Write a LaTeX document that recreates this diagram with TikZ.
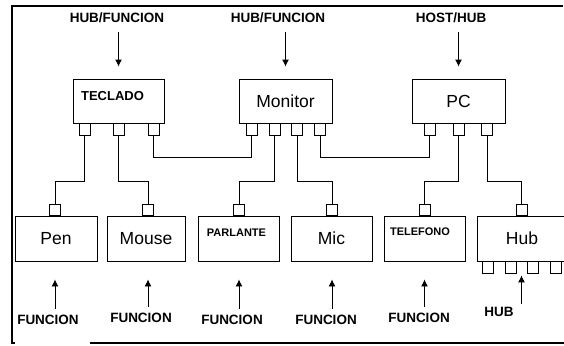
\documentclass[tikz,border=0pt]{standalone}
\usepackage{fontspec}
\setmainfont{Liberation Sans}
\usetikzlibrary{arrows.meta}
\begin{document}
\begin{tikzpicture}[x=1pt,y=-1pt,>={Latex[length=7pt,width=7pt]},
    box/.style={draw,line width=0.9pt,minimum height=44pt,inner sep=0pt,font=\fontsize{17.5}{18}\selectfont},
    port/.style={draw,line width=0.9pt,minimum width=11pt,minimum height=11.5pt,inner sep=0pt},
    tag/.style={inner sep=0pt,font=\fontsize{13.5}{14}\selectfont\bfseries},
    small/.style={inner sep=0pt,font=\fontsize{11}{12}\selectfont\bfseries},
    wire/.style={line width=0.9pt},
    flow/.style={->,line width=0.9pt}]
        \useasboundingbox (0,0) rectangle (564,345);
        \clip (0,0) rectangle (564,345);

        % draw the frame
        \draw[line width=1.3pt] (563,6) -- (12,6) -- (12,343) -- (15,343);
        \draw[line width=1.3pt] (90,343) -- (564,343);

        % the hubs on top
        \node[box,minimum width=91pt] (tec) at (118.5,101) {};
        \node[tag,font=\fontsize{13}{14}\selectfont\bfseries] (tec-t) at (112.5,96) {TECLADO};
        \node[box,minimum width=93pt] (mon) at (285.5,101) {Monitor};
        \node[box,minimum width=93pt] (pc) at (458.5,101) {PC};

        % ports under each hub
        \foreach \x [count=\i] in {84.5,118.5,153.5}
                \node[port,anchor=north] (tec\i) at (\x,123) {};
        \foreach \x [count=\i] in {251.5,274.5,297,320}
                \node[port,anchor=north] (mon\i) at (\x,123) {};
        \foreach \x [count=\i] in {429.5,458.5,487}
                \node[port,anchor=north] (pc\i) at (\x,123) {};

        % the devices below
        \node[box,minimum width=82pt,minimum height=45pt] (pen) at (56,238.5) {Pen};
        \node[box,minimum width=78pt,minimum height=45pt] (mou) at (146,238.5) {Mouse};
        \node[box,minimum width=81pt,minimum height=45pt] (par) at (238.5,238.5) {};
        \node[small] (par-t) at (236.5,233) {PARLANTE};
        \node[box,minimum width=81pt,minimum height=45pt] (mic) at (331.5,238.5) {Mic};
        \node[box,minimum width=81pt,minimum height=45pt] (tel) at (424.5,238.5) {};
        \node[small] (tel-t) at (420,232) {TELEFONO};
        \node[box,minimum width=103pt,minimum height=45pt] (hub) at (528.5,238.5) {};
        \node[font=\fontsize{17.5}{18}\selectfont] (hub-t) at (522,238.5) {Hub};

        % one port on top of each device
        \foreach \n/\x in {pen/55,mou/148,par/239,mic/332,tel/424.5,hub/521.5}
                \node[port,anchor=south] (\n-p) at (\x,216) {};
        % ports under the hub
        \foreach \x [count=\i] in {487.5,510.5,532.5,555.5}
                \node[port,anchor=north] (hubb\i) at (\x,261) {};

        % cables between the hubs
        \draw[wire] (tec3.south) -- ++(0,22) -| (mon1.south);
        \draw[wire] (mon4.south) -- ++(0,22) -| (pc1.south);
        % cables down to the devices
        \foreach \a/\b in {tec1/pen,tec2/mou,mon2/par,mon3/mic,pc2/tel,pc3/hub}
                \draw[wire] (\a.south) -- ++(0,46) -| (\b-p.north);

        % labels and arrows on top
        \node[tag] (lab1) at (117,18) {HUB/FUNCION};
        \node[tag] (lab2) at (278,18) {HUB/FUNCION};
        \node[tag] (lab3) at (451,18) {HOST/HUB};
        \foreach \l/\b in {lab1/tec,lab2/mon,lab3/pc}
                \draw[flow,shorten <=9pt,shorten >=12pt] (\l.south -| \b.north) -- (\b.north);

        % labels and arrows below
        \node[tag] (fun1) at (48,320) {FUNCION};
        \node[tag] (fun2) at (141,318) {FUNCION};
        \node[tag] (fun3) at (232,320) {FUNCION};
        \node[tag] (fun4) at (326,320) {FUNCION};
        \node[tag] (fun5) at (419,318) {FUNCION};
        \node[tag] (fun6) at (499,312) {HUB};
        \foreach \l/\b in {fun1/pen,fun2/mou,fun3/par,fun4/mic,fun5/tel}
                \draw[flow,shorten <=6pt,shorten >=18pt] (\l.north -| \b-p) -- (\b-p |- \b.south);
        \draw[flow,shorten <=3pt,shorten >=2pt] (fun6.north -| hub-p) -- (hub-p |- hubb1.south);
\end{tikzpicture}
\end{document}
